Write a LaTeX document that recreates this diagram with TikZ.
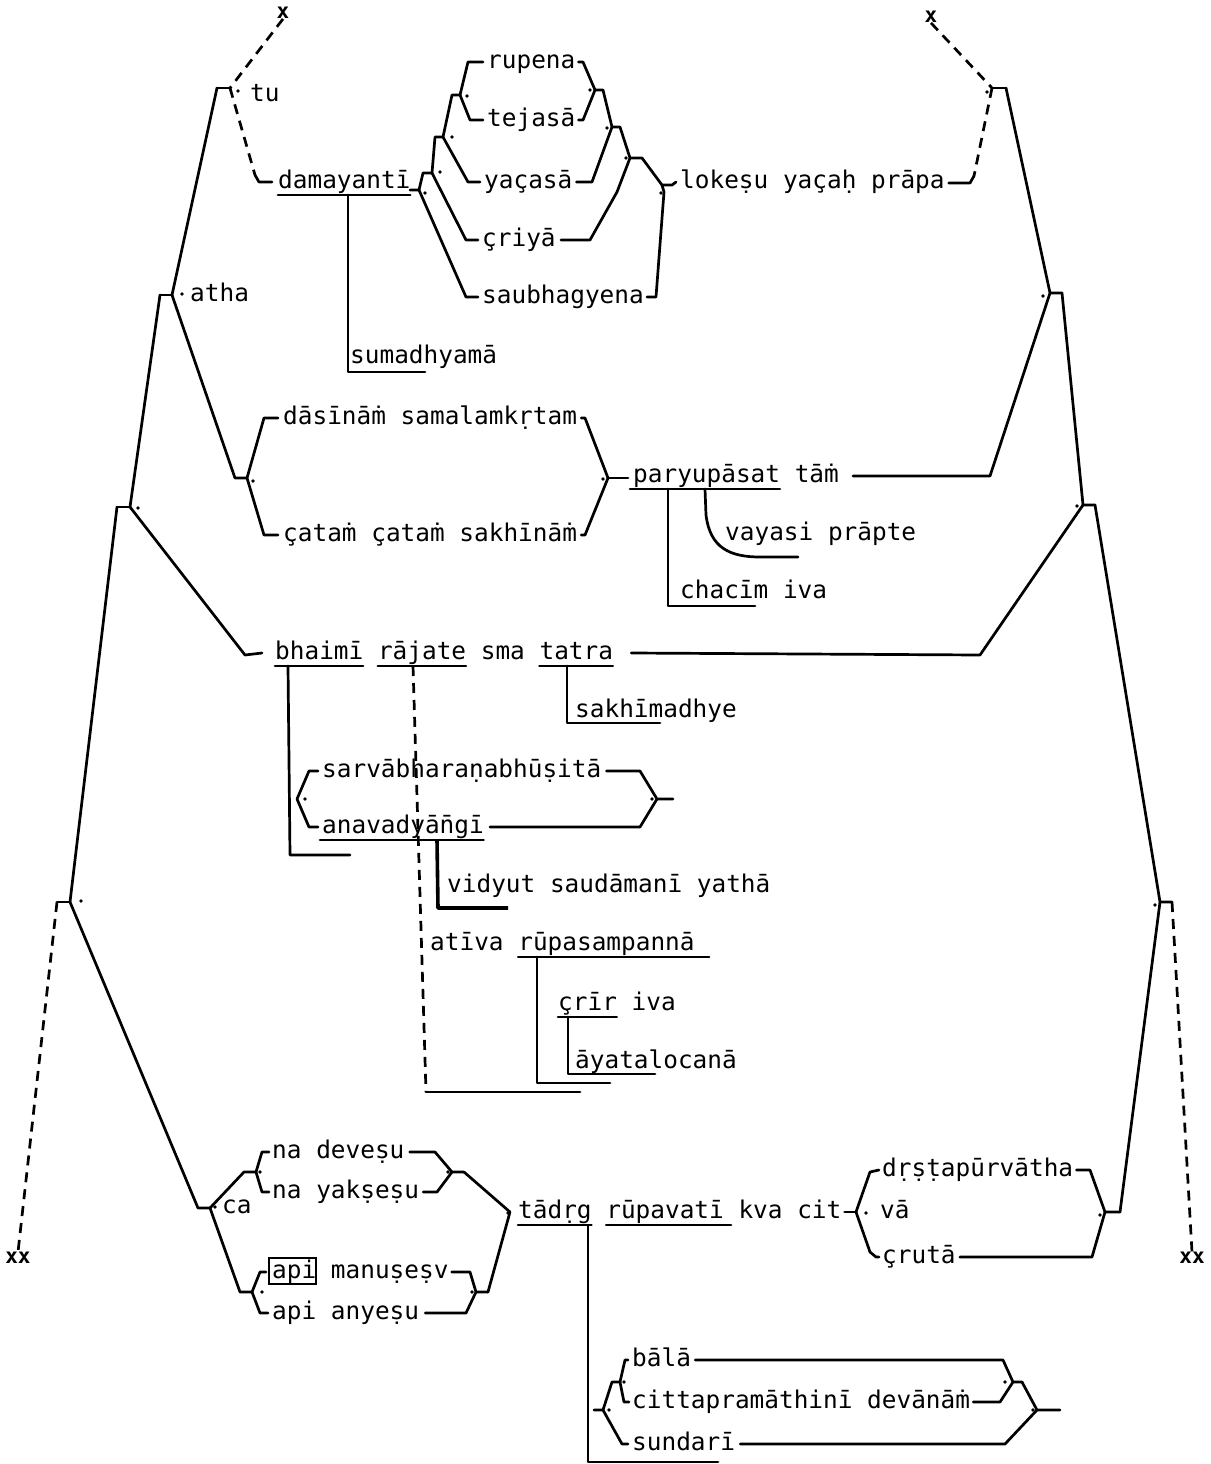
\documentclass[tikz,border=0pt]{standalone}
\usepackage{fontspec}
\newfontfamily\typw{DejaVu Sans Mono}
\usetikzlibrary{calc}
\def\cw{14.69}
\tikzset{
 tx/.style={anchor=west, inner sep=0pt, text height=17pt, text depth=5pt, font=\typw\fontsize{24.4}{28}\selectfont},
 ln/.style={line width=2.7pt, line join=round, line cap=round},
 thk/.style={line width=3.6pt, line join=round},
 dl/.style={line width=2.7pt, dash pattern=on 10pt off 7pt},
 xm/.style={inner sep=0pt, font=\typw\bfseries\fontsize{21}{22}\selectfont},
}
\newcommand\jdot[1]{\fill #1 circle (1.8pt);}
\newcommand\undl[3]{\draw[ln] ($(#1.west)+({#2*\cw},13)$) -- ($(#1.west)+({#3*\cw},13)$);}
\begin{document}
\begin{tikzpicture}[x=1pt,y=-1pt]
\useasboundingbox[fill=white] (0,0) rectangle (1210,1464);
% ---------- texts
\node[tx] (tu) at (250,95) {tu};
\node[tx] (atha) at (190,295) {atha};
\node[tx] (dam) at (278,182) {damayantī};
\node[tx] (rup) at (487,62) {rupena};
\node[tx] (tej) at (487,120) {tejasā};
\node[tx] (yac) at (484,182) {yaçasā};
\node[tx] (cri) at (482,240) {çriyā};
\node[tx] (sau) at (482,297) {saubhagyena};
\node[tx] (lok) at (680,182) {lokeṣu yaçaḥ prāpa};
\node[tx] (sum) at (350,357) {sumadhyamā};
\node[tx] (das) at (283,418) {dāsīnāṁ samalamkṛtam};
\node[tx] (cat) at (283,535) {çataṁ çataṁ sakhīnāṁ};
\node[tx] (par) at (633,476) {paryupāsat tāṁ};
\node[tx] (vay) at (725,534) {vayasi prāpte};
\node[tx] (cha) at (680,592) {chacīm iva};
\node[tx] (bha) at (275,653) {bhaimī rājate sma tatra};
\node[tx] (sak) at (575,711) {sakhīmadhye};
\node[tx] (sar) at (322,771) {sarvābharaṇabhūṣitā};
\node[tx] (ana) at (322,827) {anavadyān̄gī};
\node[tx] (vid) at (447,886) {vidyut saudāmanī yathā};
\node[tx] (ati) at (430,944) {atīva rūpasampannā};
\node[tx] (sri) at (558,1004) {çrīr iva};
\node[tx] (aya) at (575,1062) {āyatalocanā};
\node[tx] (nad) at (272,1152) {na deveṣu};
\node[tx] (nay) at (272,1192) {na yakṣeṣu};
\node[tx] (ca) at (222,1207) {ca};
\node[tx] (apm) at (272,1272) {api manuṣeṣv};
\node[tx] (apa) at (272,1313) {api anyeṣu};
\node[draw, line width=1.8pt, inner sep=0pt, minimum width=47pt, minimum height=26pt, anchor=west] (apibox) at (268,1271) {};
\node[tx] (tad) at (518,1212) {tādṛg rūpavatī kva cit};
\node[tx] (va) at (880,1212) {vā};
\node[tx] (drs) at (882,1170) {dṛṣṭapūrvātha};
\node[tx] (sru) at (882,1257) {çrutā};
\node[tx] (bal) at (632,1360) {bālā};
\node[tx] (cit) at (632,1402) {cittapramāthinī devānāṁ};
\node[tx] (sun) at (632,1444) {sundarī};
% ---------- x marks
\node[xm] (x1) at (283,13) {x};
\node[xm] (x2) at (931,17) {x};
\node[xm] (xl) at (18,1258) {xx};
\node[xm] (xr) at (1192,1258) {xx};
% ---------- junction coordinates
\coordinate (T1) at (217,88); \coordinate (T2) at (230,88);
\coordinate (A1) at (160,295); \coordinate (A2) at (172,295);
\coordinate (L2a) at (117,507); \coordinate (L2b) at (130,507);
\coordinate (L4a) at (57,902); \coordinate (L4b) at (70,902);
\coordinate (D1) at (235,478); \coordinate (D2) at (247,478);
\coordinate (E1) at (608,478); \coordinate (E2) at (628,478);
\coordinate (R1a) at (992,88); \coordinate (R1b) at (1006,88);
\coordinate (R2a) at (1050,293); \coordinate (R2b) at (1062,293);
\coordinate (R3a) at (1083,505); \coordinate (R3b) at (1095,505);
\coordinate (R4a) at (1160,902); \coordinate (R4b) at (1172,902);
\coordinate (J0a) at (410,190); \coordinate (J0b) at (419,190);
\coordinate (J1a) at (423,173); \coordinate (J1b) at (432,173);
\coordinate (J2a) at (435,137); \coordinate (J2b) at (443,137);
\coordinate (J3a) at (452,95); \coordinate (J3b) at (460,95);
\coordinate (K3a) at (595,90); \coordinate (K3b) at (603,90);
\coordinate (K2a) at (612,127); \coordinate (K2b) at (620,127);
\coordinate (K1a) at (630,158); \coordinate (K1b) at (642,158);
\coordinate (K0a) at (662,185); \coordinate (K0b) at (672,185);
\coordinate (C1) at (198,1208); \coordinate (C2) at (210,1208);
\coordinate (N1) at (244,1172); \coordinate (N2) at (256,1172);
\coordinate (P1) at (240,1292); \coordinate (P2) at (252,1292);
\coordinate (NR1) at (452,1172); \coordinate (NR2) at (464,1172);
\coordinate (PR1) at (476,1292); \coordinate (PR2) at (488,1292);
\coordinate (TJ) at (510,1212);
\coordinate (VL) at (856,1212);
\coordinate (VR1) at (1105,1212); \coordinate (VR2) at (1120,1212);
\coordinate (SL) at (297,799);
\coordinate (SR1) at (657,799); \coordinate (SR2) at (673,799);
\coordinate (B1a) at (594,1410); \coordinate (B1b) at (603,1410);
\coordinate (B2a) at (612,1382); \coordinate (B2b) at (620,1382);
\coordinate (B3a) at (1013,1382); \coordinate (B3b) at (1022,1382);
\coordinate (B4a) at (1037,1410); \coordinate (B4b) at (1060,1410);
% ---------- outer frame, left
\draw[dl] (x1.south) -- (T2);
\draw[ln] (T1) -- (T2);
\draw[dl] (T2) -- (255,175);
\draw[ln] (255,175) -- (259,182) -- ($(dam.west)+(-6,0)$);
\draw[ln] (T1) -- (A2);
\draw[ln] (A1) -- (A2);
\draw[ln] (A1) -- (L2b);
\draw[ln] (A2) -- (D1) -- (D2);
\draw[ln] (L2a) -- (L2b);
\draw[ln] (L2b) -- (245,655) -- ($(bha.west)+(-13,0)$);
\draw[ln] (L2a) -- (L4b);
\draw[ln] (L4a) -- (L4b);
\draw[dl] (L4a) -- (xl.north);
\draw[ln] (L4b) -- (C1) -- (C2);
% ---------- outer frame, right
\draw[dl] (x2.south) -- (R1a);
\draw[ln] (R1a) -- (R1b);
\draw[dl] (R1a) -- (974,176);
\draw[ln] ($(lok.east)+(4,1)$) -- (970,183) -- (974,176);
\draw[ln] (R1b) -- (R2a) -- (R2b);
\draw[ln] (R2a) -- (990,476) -- ($(par.east)+(14,0)$);
\draw[ln] (R2b) -- (R3a) -- (R3b);
\draw[ln] (R3a) -- (980,655) -- ($(bha.east)+(18,0)$);
\draw[ln] (R3b) -- (R4a) -- (R4b);
\draw[dl] (R4b) -- (xr.north);
\draw[ln] (R4a) -- (VR2);
% ---------- damayanti bracket tree
\draw[ln] (J0a) -- (J0b) -- (J1a) -- (J1b) -- (J2a) -- (J2b) -- (J3a) -- (J3b);
\draw[ln] (J3b) -- (468,62) -- ($(rup.west)+(-4,0)$);
\draw[ln] (J3b) -- (470,120) -- ($(tej.west)+(-4,0)$);
\draw[ln] (J2b) -- (468,182) -- ($(yac.west)+(-4,0)$);
\draw[ln] (J1b) -- (466,240) -- ($(cri.west)+(-4,0)$);
\draw[ln] (J0b) -- (466,297) -- ($(sau.west)+(-4,0)$);
\draw[ln] (K3a) -- (K3b) -- (K2a) -- (K2b) -- (K1a) -- (K1b) -- (K0a) -- (K0b) -- ($(lok.west)+(-4,0)$);
\draw[ln] ($(rup.east)+(3,0)$) -- (583,62) -- (K3a);
\draw[ln] ($(tej.east)+(3,0)$) -- (583,120) -- (K3a);
\draw[ln] ($(yac.east)+(4,0)$) -- (592,182) -- (K2a);
\draw[ln] ($(cri.east)+(5,0)$) -- (590,240) -- (617,192) -- (K1a);
\draw[ln] ($(sau.east)+(3,0)$) -- (656,297) -- (664,192) -- (K0a);
\undl{dam}{0}{9}
\draw[ln] (348,195) -- (348,372) -- (425,372);
% ---------- dasinam bracket
\draw[ln] (D2) -- (264,418) -- ($(das.west)+(-5,0)$);
\draw[ln] (D2) -- (264,535) -- ($(cat.west)+(-5,0)$);
\draw[ln] ($(das.east)+(4,0)$) -- (585,418) -- (E1);
\draw[ln] ($(cat.east)+(4,0)$) -- (585,535) -- (E1);
\draw[ln] (E1) -- (E2);
\draw[ln] ($(par.west)+(-3,13)$) -- ($(par.west)+({10*\cw},13)$);
\draw[ln] (668,489) -- (668,606) -- (755,606);
\draw[ln] (705,489) -- (706,515) .. controls (710,548) and (730,557) .. (760,557) -- (798,557);
% ---------- bhaimi row
\undl{bha}{0}{6}
\undl{bha}{7}{13}
\undl{bha}{18}{23}
\draw[ln] (288,666) -- (290,855) -- (350,855);
\draw[ln] (567,666) -- (567,723) -- (660,723);
\draw[dl] (413,666) -- (426,1092);
\draw[ln] (426,1092) -- (580,1092);
\draw[ln] ($(sar.west)+(-4,0)$) -- (309,771) -- (SL) -- (309,827) -- ($(ana.west)+(-4,0)$);
\draw[ln] ($(sar.east)+(5,0)$) -- (640,771) -- (SR1) -- (SR2);
\draw[ln] ($(ana.east)+(6,0)$) -- (640,827) -- (SR1);
\draw[ln] ($(ana.west)+(-2,13)$) -- ($(ana.west)+({11*\cw},13)$);
\draw[thk] (437,840) -- (438,908) -- (508,908);
\undl{ati}{6}{19}
\draw[ln] (537,957) -- (537,1083) -- (610,1083);
\undl{sri}{0}{4}
\draw[ln] (568,1017) -- (568,1074) -- (655,1074);
% ---------- lower part
\draw[ln] (C2) -- (N1) -- (N2);
\draw[ln] (N2) -- (262,1152) -- ($(nad.west)+(-3,0)$);
\draw[ln] (N2) -- (262,1192) -- ($(nay.west)+(-3,0)$);
\draw[ln] (C2) -- (P1) -- (P2);
\draw[ln] (P2) -- (260,1272) -- ($(apibox.west)+(-2,1)$);
\draw[ln] (P2) -- (260,1313) -- ($(apa.west)+(-4,0)$);
\draw[ln] ($(nad.east)+(5,0)$) -- (435,1152) -- (NR1) -- (NR2);
\draw[ln] ($(nay.east)+(4,0)$) -- (437,1192) -- (NR1);
\draw[ln] ($(apm.east)+(3,0)$) -- (470,1272) -- (PR1) -- (PR2);
\draw[ln] ($(apa.east)+(6,0)$) -- (466,1313) -- (PR1);
\draw[ln] (NR2) -- (TJ);
\draw[ln] (PR2) -- (TJ);
\undl{tad}{0}{5}
\undl{tad}{6}{14.5}
\draw[ln] (588,1226) -- (588,1462) -- (718,1462);
\draw[ln] ($(tad.east)+(3,0)$) -- (VL);
\draw[ln] (VL) -- (870,1172) -- ($(drs.west)+(-3,0)$);
\draw[ln] (VL) -- (870,1252) -- (876,1257) -- ($(sru.west)+(-3,0)$);
\draw[ln] ($(drs.east)+(3,0)$) -- (1090,1170) -- (VR1) -- (VR2);
\draw[ln] ($(sru.east)+(4,0)$) -- (1092,1257) -- (VR1);
\draw[ln] (B1a) -- (B1b) -- (B2a) -- (B2b);
\draw[ln] (B2b) -- (625,1360) -- ($(bal.west)+(-4,0)$);
\draw[ln] (B2b) -- (624,1402) -- ($(cit.west)+(-3,0)$);
\draw[ln] (B1b) -- (622,1444) -- ($(sun.west)+(-4,0)$);
\draw[ln] ($(bal.east)+(4,0)$) -- (1003,1360) -- (B3a) -- (B3b);
\draw[ln] ($(cit.east)+(3,0)$) -- (1000,1402) -- (B3a);
\draw[ln] (B3b) -- (B4a) -- (B4b);
\draw[ln] ($(sun.east)+(5,0)$) -- (1005,1444) -- (B4a);
% ---------- junction dots
\jdot{(238,91)} \jdot{(182,294)} \jdot{(138,508)} \jdot{(81,901)}
\jdot{(253,481)} \jdot{(603,479)} \jdot{(987,92)} \jdot{(1043,296)}
\jdot{(1077,506)} \jdot{(1155,905)}
\jdot{(467,96)} \jdot{(452,137)} \jdot{(440,172)} \jdot{(425,193)}
\jdot{(590,90)} \jdot{(607,128)} \jdot{(626,158)} \jdot{(661,193)}
\jdot{(305,799)} \jdot{(652,799)}
\jdot{(215,1207)} \jdot{(260,1172)} \jdot{(262,1292)} \jdot{(448,1172)}
\jdot{(472,1292)} \jdot{(508,1213)} \jdot{(866,1213)} \jdot{(1100,1215)}
\jdot{(609,1410)} \jdot{(624,1382)} \jdot{(1005,1382)} \jdot{(1033,1410)}
\end{tikzpicture}
\end{document}
